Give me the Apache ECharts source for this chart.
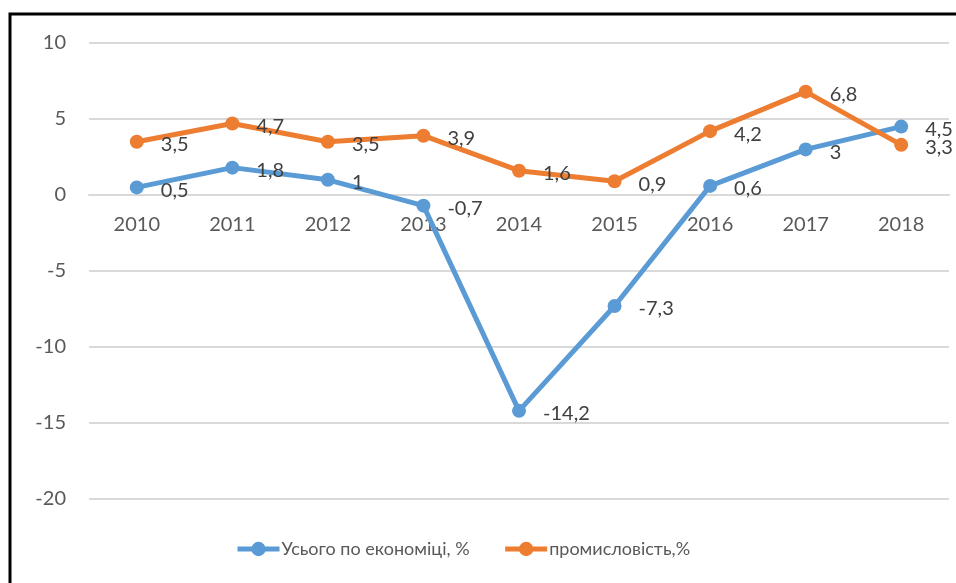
<!DOCTYPE html>
<html>
<head>
<meta charset="utf-8">
<script src="https://cdn.jsdelivr.net/npm/echarts@6/dist/echarts.min.js"></script>
<style>
  html, body { margin: 0; padding: 0; background: #fff; }
  #chart { width: 956px; height: 583px; }
</style>
</head>
<body>
<div id="chart"></div>
<script>
// years on the x axis
var years = ['2010', '2011', '2012', '2013', '2014', '2015', '2016', '2017', '2018'];
// Усього по економіці, %
var economyTotal = [0.5, 1.8, 1, -0.7, -14.2, -7.3, 0.6, 3, 4.5];
// промисловість,%
var industry = [3.5, 4.7, 3.5, 3.9, 1.6, 0.9, 4.2, 6.8, 3.3];

var seriesNames = ['Усього по економіці, %', 'промисловість,%'];

var chartDom = document.getElementById('chart');
var myChart = echarts.init(chartDom);

var fontName = "Lato, 'Liberation Sans Narrow', sans-serif";

function labelFormatter(params) {
    return String(params.value).replace('.', ',');
}

function makeSeries(name, data, color) {
    return {
        name: name,
        type: 'line',
        data: data,
        symbol: 'circle',
        symbolSize: 14,
        lineStyle: { width: 5, color: color },
        itemStyle: { color: color },
        label: {
            show: true,
            position: 'right',
            distance: 17,
            offset: [0, 3],
            color: '#404040',
            fontSize: 20,
            fontFamily: fontName,
            formatter: labelFormatter
        },
        animation: false
    };
}

// zero line sits at y=195, bottom of the grid at y=499
var zeroOffset = -(499 - 195);

var option = {
    backgroundColor: '#fff',
    textStyle: { fontFamily: fontName },
    grid: {
        left: 89,
        right: 7,
        top: 43,
        bottom: 84
    },
    graphic: [{
        type: 'rect',
        shape: { x: 10, y: 14, width: 980, height: 620 },
        style: { fill: 'none', stroke: '#000', lineWidth: 3 },
        silent: true
    }],
    legend: {
        left: 235,
        top: 540,
        padding: 0,
        itemWidth: 42,
        itemHeight: 18,
        itemGap: 33,
        lineStyle: { width: 5 },
        textStyle: { color: '#595959', fontSize: 18, fontFamily: fontName, padding: [0, 0, 0, -3] },
        data: seriesNames
    },
    xAxis: {
        type: 'category',
        data: years,
        offset: zeroOffset,
        axisLine: { show: true, onZero: false, lineStyle: { color: '#d9d9d9', width: 2 } },
        axisTick: { show: false },
        axisLabel: { color: '#595959', fontSize: 20, margin: 20, fontFamily: fontName }
    },
    yAxis: {
        type: 'value',
        min: -20,
        max: 10,
        interval: 5,
        axisLine: { show: false },
        axisTick: { show: false },
        axisLabel: { color: '#595959', fontSize: 20, margin: 23, fontFamily: fontName },
        splitLine: { lineStyle: { color: '#d9d9d9', width: 2 } }
    },
    series: [
        makeSeries(seriesNames[0], economyTotal, '#5b9bd5'),
        makeSeries(seriesNames[1], industry, '#ed7d31')
    ]
};

option && myChart.setOption(option);
</script>
</body>
</html>
